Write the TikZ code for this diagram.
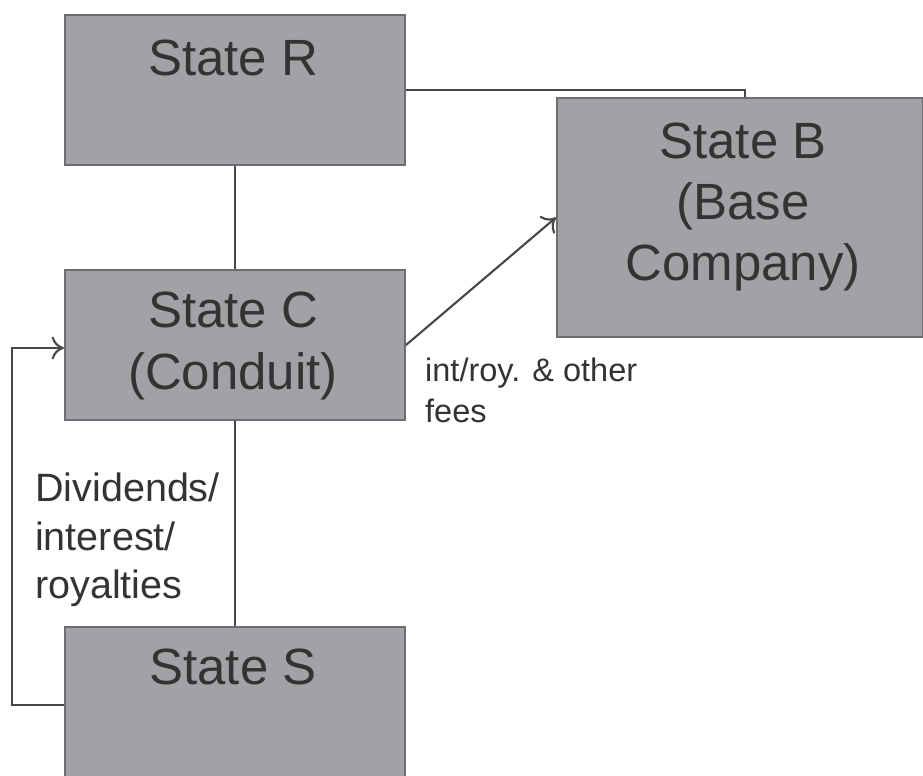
\documentclass[tikz,border=0pt]{standalone}
\usepackage{fontspec}
\setmainfont{Liberation Sans}
\usetikzlibrary{arrows.meta, positioning}

\definecolor{boxgray}{HTML}{A2A2A6}
\definecolor{edgegray}{HTML}{6E6E72}
\definecolor{inkgray}{HTML}{333333}

\begin{document}
\begin{tikzpicture}[x=0.02cm, y=-0.02cm,
    statebox/.style={rectangle, draw=edgegray, line width=1.2pt, fill=boxgray, inner sep=0pt},
    bigtext/.style={text=inkgray, font=\fontsize{29}{35}\selectfont, align=center},
    smalltext/.style={text=inkgray, align=left},
    link/.style={draw=inkgray!90, line width=1.2pt}]
            % Fix the page size
            \useasboundingbox (0,0) rectangle (923,776);
            \clip (0,0) rectangle (923,776);

            % Boxes
            \node[statebox, minimum width=6.8cm, minimum height=3cm] (r) at (235,90) {};
            \node[statebox, minimum width=7.32cm, minimum height=4.78cm] (b) at (740,217.5) {};
            \node[statebox, minimum width=6.8cm, minimum height=3cm] (c) at (235,345) {};
            \node[statebox, minimum width=6.8cm, minimum height=3.12cm] (s) at (235,705) {};

            % Box texts
            \node[bigtext] (rtext) at (233,58) {State R};
            \node[bigtext] (btext) at (743,207) {State B\\(Base\\Company)};
            \node[bigtext] (ctext) at (233,346) {State C\\(Conduit)};
            \node[bigtext] (stext) at (233,667) {State S};

            % Connections
            \draw[link] (r.south) -- (c.north);
            \draw[link] (c.south) -- (s.north);
            \draw[link] (r.east) -| ([xshift=0.1cm]b.north);
            \draw[link, -{To[length=7pt, width=13pt]}] (c.east) -- (b.west);
            \draw[link, -{To[length=7pt, width=13pt]}] (s.west) -- ++(-52,0) |- ([yshift=-0.06cm]c.west);

            % Flow labels
            \node[smalltext, anchor=north west, font=\fontsize{18.5}{23}\selectfont] (fees) at (419,352) {int/roy. \& other\\fees};
            \node[smalltext, anchor=north west, font=\fontsize{22.5}{27.5}\selectfont] (divs) at (29,467) {Dividends/\\interest/\\royalties};
        \end{tikzpicture}
\end{document}
